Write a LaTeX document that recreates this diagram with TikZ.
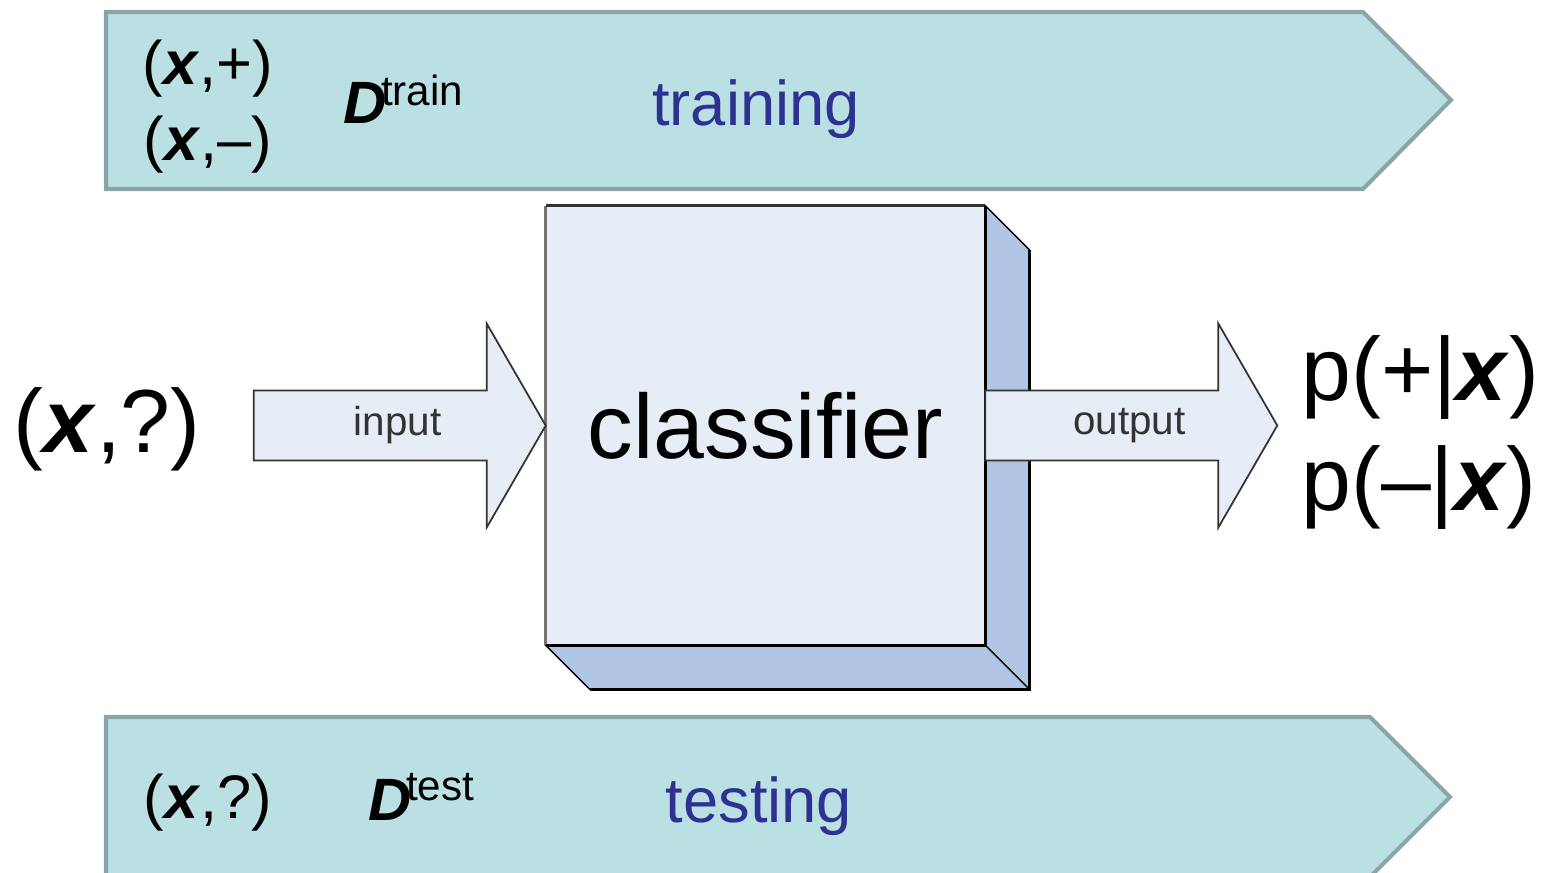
\documentclass[tikz,border=0pt]{standalone}
\usepackage{fontspec}
\setmainfont{Liberation Sans}
\usepackage{xcolor}
\definecolor{trackfill}{RGB}{186,224,227}
\definecolor{trackline}{RGB}{138,165,166}
\definecolor{facefront}{RGB}{230,237,247}
\definecolor{faceside}{RGB}{175,197,227}
\definecolor{labelblue}{RGB}{46,49,146}
\usepackage{tikz}
\usetikzlibrary{positioning,calc}
\newcommand{\vx}{\textbf{\textit{x}}}

\begin{document}
\begin{tikzpicture}[x=0.02cm, y=-0.02cm,
    track/.style={fill=trackfill, draw=trackline, line width=2.3pt, line join=miter},
    face/.style={fill=faceside, draw=black, line width=0.8pt},
    blockarrow/.style={fill=facefront, draw=black!80, line width=1pt},
    tag/.style={inner sep=0, text=black!80, font=\fontsize{23}{26}\selectfont},
    phase/.style={inner sep=0, anchor=base, text=labelblue, font=\fontsize{36}{40}\selectfont},
    pair/.style={inner sep=0, anchor=base, font=\fontsize{35}{40}\selectfont},
    big/.style={inner sep=0, font=\fontsize{51}{56}\selectfont}]
    \useasboundingbox (0,0) rectangle (1543,873);
    \clip (0,0) rectangle (1543,873);

    % training and testing bands
    \draw[track] (106,12) -- (1363,12) -- (1451,100) -- (1363,189) -- (106,189) -- cycle;
    \draw[track] (106,717) -- (1370,717) -- (1450,797) -- (1370,877) -- (106,877) -- cycle;

    \node[pair] (pos) at (208,84) {(\vx,+)};
    \node[pair] (neg) at (208,160) {(\vx,–)};
    \node[inner sep=0, anchor=base west] (dtrain) at (343,123)
        {\fontsize{34}{40}\selectfont\textbf{\textit{D}}\kern-3pt\raisebox{10pt}{\fontsize{24}{26}\selectfont train}};
    \node[phase] (train) at (756,125) {training};

    \node[pair] (unk) at (208,818) {(\vx,?)};
    \node[inner sep=0, anchor=base west] (dtest) at (368,820)
        {\fontsize{34}{40}\selectfont\textbf{\textit{D}}\kern-3pt\raisebox{11pt}{\fontsize{24}{26}\selectfont test}};
    \node[phase] (test) at (759,822) {testing};

    % the classifier box
    \node[fill=facefront, minimum width=8.78cm, minimum height=8.78cm, inner sep=0,
          font=\fontsize{52}{58}\selectfont] (clf) at (765.5,425.5) {classifier};
    \draw[face] (clf.north east) -- ($(clf.north east)+(44,44)$) -- ($(clf.south east)+(44,44)$)
        -- (clf.south east) -- cycle;
    \draw[face] (clf.south west) -- ($(clf.south west)+(44,44)$) -- ($(clf.south east)+(44,44)$)
        -- (clf.south east) -- cycle;
    \draw[line width=1.7pt] ($(clf.north east)+(44,44)$) -- ($(clf.south east)+(44,44)$)
        -- ($(clf.south west)+(44,44)$);
    \draw[line width=1.7pt, black!55] (clf.south west) -- (clf.north west);
    \draw[line width=1.7pt, black!80] (clf.north west) -- (clf.north east);
    \draw[line width=1.7pt] (clf.north east) -- (clf.south east) -- (clf.south west);

    % input and output arrows
    \draw[blockarrow] (clf.west) -- ++(-59,-102) -- ++(0,67) -- ++(-233,0) -- ++(0,70)
        -- ++(233,0) -- ++(0,67) -- cycle;
    \node[tag] (inlab) at ($(clf.west)+(-148,0)$) {input};
    \draw[blockarrow] (clf.east) ++(0,-35) -- ++(233,0) -- ++(0,-67) -- ++(59,102) -- ++(-59,102)
        -- ++(0,-67) -- ++(-233,0) -- cycle;
    \node[tag] (outlab) at ($(clf.east)+(144,0)$) {output};

    \node[big, anchor=base] (query) at (107,452) {(\vx,?)};
    \node[big, anchor=base west] (ppos) at (1301,400) {p(+|\vx)};
    \node[big, anchor=base west] (pneg) at (1301,510) {p(–|\vx)};
\end{tikzpicture}
\end{document}
